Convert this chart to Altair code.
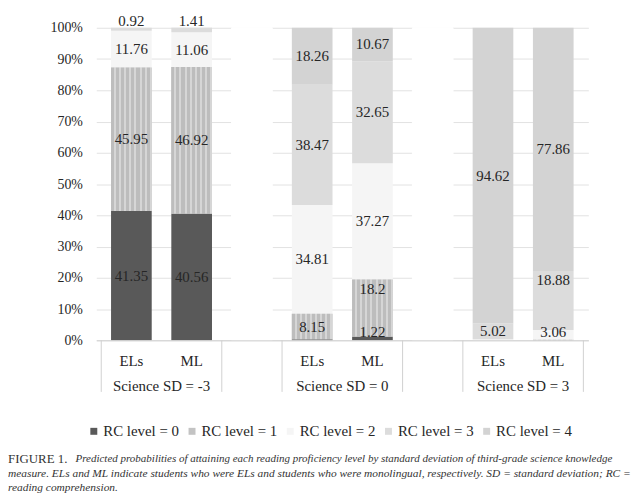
import altair as alt
import pandas as pd

# ---------------- data ----------------
groups = ["Science SD = -3", "Science SD = 0", "Science SD = 3"]
students = ["ELs", "ML"]
levels = ["RC level = 0", "RC level = 1", "RC level = 2", "RC level = 3", "RC level = 4"]
# predicted probabilities (%) for RC level 0..4
els_sd_m3 = [41.35, 45.95, 11.76, 0.92, 0.02]
ml_sd_m3 = [40.56, 46.92, 11.06, 1.41, 0.05]
els_sd_0 = [0.31, 8.15, 34.81, 38.47, 18.26]
ml_sd_0 = [1.22, 18.2, 37.27, 32.65, 10.67]
els_sd_3 = [0.00, 0.02, 0.34, 5.02, 94.62]
ml_sd_3 = [0.00, 0.20, 3.06, 18.88, 77.86]
y_ticks = [0, 10, 20, 30, 40, 50, 60, 70, 80, 90, 100]

caption_head = "FIGURE 1."
caption_line1 = ("Predicted probabilities of attaining each reading proficiency level by "
                 "standard deviation of third-grade science knowledge")
caption_rest = ["measure. ELs and ML indicate students who were ELs and students who were "
                "monolingual, respectively. SD = standard deviation; RC =",
                "reading comprehension."]

# ---------------- styles ----------------
colors = ["#595959", "#c3c3c3", "#f5f5f5", "#dcdcdc", "#d3d3d3"]
FONT = "'Liberation Serif', 'Times New Roman', serif"
TXT = "#262626"
W, H = 496, 315

series = [[els_sd_m3, ml_sd_m3], [els_sd_0, ml_sd_0], [els_sd_3, ml_sd_3]]
slots = len(students) + 1
n_slots = len(groups) * slots - 1

rows, labels, cats, grp, seps, gaps = [], [], [], [], [], []
for gi, g in enumerate(groups):
    base = gi * slots
    grp.append({"pos": base + (len(students) - 1) / 2, "text": g})
    seps.append({"b": base - 0.5})
    seps.append({"b": base + len(students) - 0.5})
    if gi < len(groups) - 1:
        gaps.append({"pos": base + len(students), "lo": 0, "hi": 100})
    for si, s in enumerate(students):
        pos = base + si
        cats.append({"pos": pos, "text": s})
        vals = series[gi][si]
        total = sum(vals)
        cum = 0.0
        prev = None
        for li, v in enumerate(vals):
            start = cum / total * 100
            cum += v
            end = cum / total * 100
            rows.append({"pos": pos, "level": levels[li], "start": start, "end": end})
            if v >= 0.5:
                mid = (start + end) / 2
                if end > 99.5 and v < 2:
                    ly = 102.3
                elif prev is not None and prev < 5:
                    ly = end - 3
                else:
                    ly = max(mid, 2.5)
                labels.append({"pos": pos, "ly": ly, "text": f"{v:g}"})
                prev = v
            else:
                prev = None

df = pd.DataFrame(rows)
lab_df = pd.DataFrame(labels)
cat_df = pd.DataFrame(cats)
grp_df = pd.DataFrame(grp)
sep_df = pd.DataFrame(seps)
gap_df = pd.DataFrame(gaps)

xs = alt.Scale(domain=[-0.5, n_slots - 0.5], nice=False, zero=False)
ys = alt.Scale(domain=[0, 100], nice=False)
xax = alt.Axis(domain=True, domainColor="#d0d0d0", domainWidth=1, ticks=False,
               labels=False, grid=False, title=None, zindex=1)
yax = alt.Axis(values=y_ticks, labelExpr="datum.value + '%'", domain=False, ticks=False,
               grid=True, gridColor="#e2e2e2", gridWidth=1, title=None,
               labelFont=FONT, labelFontSize=14, labelColor=TXT, labelPadding=14,
               labelOverlap=False, tickCount=len(y_ticks))


def X(f):
    return alt.X(f, scale=xs, axis=xax)


def Y(f):
    return alt.Y(f, scale=ys, axis=yax)


bars = alt.Chart(df).mark_bar(size=41).encode(
    x=X("pos:Q"),
    y=Y("start:Q"),
    y2="end:Q",
    color=alt.Color("level:N", scale=alt.Scale(domain=levels, range=colors),
                    legend=alt.Legend(title=None, orient="none", legendX=-10, legendY=399,
                                      direction="horizontal", columns=5,
                                      symbolType="square", symbolSize=49,
                                      symbolStrokeWidth=0, labelFont=FONT,
                                      labelFontSize=15, labelColor=TXT,
                                      labelOffset=2, columnPadding=5)),
)

# vertical-stripe texture for RC level = 1 (style only)
n_stripes = 8
stops = []
for k in range(n_stripes):
    a = k / n_stripes
    b = a + 0.6 / n_stripes
    c = (k + 1) / n_stripes
    stops += [alt.GradientStop(offset=a, color="#bdbdbd"),
              alt.GradientStop(offset=b, color="#bdbdbd"),
              alt.GradientStop(offset=b, color="#d6d6d6"),
              alt.GradientStop(offset=min(c, 1.0), color="#d6d6d6")]
stripe = alt.Gradient(gradient="linear", x1=0, x2=1, y1=0, y2=0, stops=stops)

lvl1_bars = alt.Chart(df).transform_filter(
    alt.datum.level == levels[1]
).mark_bar(size=41, color=stripe).encode(
    x=X("pos:Q"), y=Y("start:Q"), y2="end:Q",
)

gap_bars = alt.Chart(gap_df).mark_bar(size=41, color="white", stroke="white",
                                      strokeWidth=1).encode(
    x=X("pos:Q"), y=Y("lo:Q"), y2="hi:Q",
)

sep_rules = alt.Chart(sep_df).mark_rule(color="#d0d0d0", strokeWidth=1).encode(
    x=X("b:Q"), y=alt.value(H), y2=alt.value(H + 52),
)

val_text = alt.Chart(lab_df).mark_text(font=FONT, fontSize=15, color=TXT,
                                       baseline="middle").encode(
    x=X("pos:Q"), y=Y("ly:Q"), text="text:N",
)

cat_text = alt.Chart(cat_df).mark_text(font=FONT, fontSize=15, color=TXT,
                                       baseline="middle").encode(
    x=X("pos:Q"), y=alt.value(H + 21), text="text:N",
)

grp_text = alt.Chart(grp_df).mark_text(font=FONT, fontSize=15, color=TXT,
                                       baseline="middle").encode(
    x=X("pos:Q"), y=alt.value(H + 46), text="text:N",
)

cap_color = "#333333"
cap_head = alt.Chart(pd.DataFrame({"t": [caption_head]})).mark_text(
    font=FONT, fontSize=13, color=cap_color, align="left", baseline="middle"
).encode(x=alt.value(-89), y=alt.value(435), text="t:N")

cap_l1 = alt.Chart(pd.DataFrame({"t": [caption_line1]})).mark_text(
    font=FONT, fontSize=11.08, fontStyle="italic", color=cap_color, align="left",
    baseline="middle"
).encode(x=alt.value(-21), y=alt.value(435), text="t:N")

cap_rest = alt.Chart(pd.DataFrame({"t": ["\n".join(caption_rest)]})).mark_text(
    font=FONT, fontSize=11.5, fontStyle="italic", color=cap_color, align="left",
    baseline="middle", lineBreak="\n", lineHeight=14
).encode(x=alt.value(-89), y=alt.value(450), text="t:N")

chart = alt.layer(bars, lvl1_bars, gap_bars, sep_rules, val_text, cat_text, grp_text,
                  cap_head, cap_l1, cap_rest).properties(
    width=W, height=H,
    autosize=alt.AutoSizeParams(type="none"),
    padding={"left": 89, "top": 18, "right": 44, "bottom": 156},
    background="white",
).configure_view(stroke=None)

chart.save("out.html", embed_options={"renderer": "svg", "actions": False})
